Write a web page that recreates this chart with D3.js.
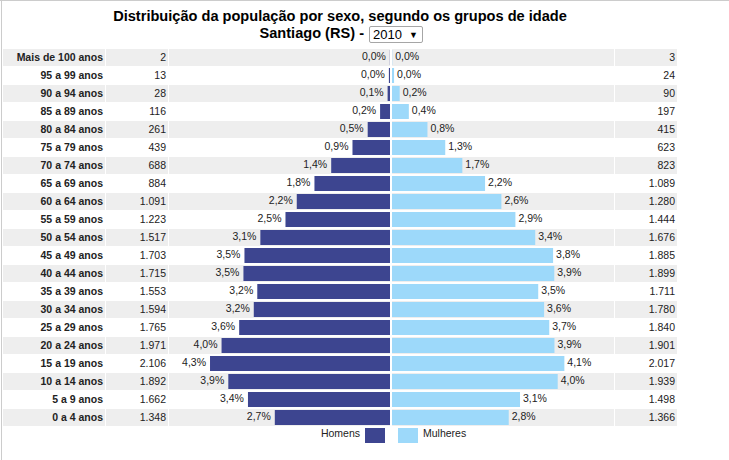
<!DOCTYPE html>
<html>
<head>
<meta charset="utf-8">
<script src="https://cdn.jsdelivr.net/npm/d3@7"></script>
<style>
  html, body { margin: 0; padding: 0; background: #fff; }
  svg { display: block; font-family: "Liberation Sans", Arial, sans-serif; }
</style>
</head>
<body>
<div id="chart"></div>
<script>
const titleLine1 = "Distribuição da população por sexo, segundo os grupos de idade";
const titleLine2 = "Santiago (RS) - ";
const yearOption = "2010";

const ageGroups = ["Mais de 100 anos","95 a 99 anos","90 a 94 anos","85 a 89 anos","80 a 84 anos",
  "75 a 79 anos","70 a 74 anos","65 a 69 anos","60 a 64 anos","55 a 59 anos","50 a 54 anos",
  "45 a 49 anos","40 a 44 anos","35 a 39 anos","30 a 34 anos","25 a 29 anos","20 a 24 anos",
  "15 a 19 anos","10 a 14 anos","5 a 9 anos","0 a 4 anos"];
const homens = [2,13,28,116,261,439,688,884,1091,1223,1517,1703,1715,1553,1594,1765,1971,2106,1892,1662,1348];
const mulheres = [3,24,90,197,415,623,823,1089,1280,1444,1676,1885,1899,1711,1780,1840,1901,2017,1939,1498,1366];
const homensPct = ["0,0","0,0","0,1","0,2","0,5","0,9","1,4","1,8","2,2","2,5","3,1","3,5","3,5","3,2","3,2","3,6","4,0","4,3","3,9","3,4","2,7"];
const mulheresPct = ["0,0","0,0","0,2","0,4","0,8","1,3","1,7","2,2","2,6","2,9","3,4","3,8","3,9","3,5","3,6","3,7","3,9","4,1","4,0","3,1","2,8"];
const legendLabels = ["Homens","Mulheres"];

const W = 729, H = 460;
const colMale = "#3d4590", colFemale = "#9dd9fa", rowGrey = "#eeeeee", txt = "#222";
const fmt = d3.formatLocale({decimal: ",", thousands: ".", grouping: [3]}).format(",d");

const svg = d3.select("#chart").append("svg").attr("width", W).attr("height", H);

// page borders
svg.append("line").attr("x1", 0).attr("x2", W).attr("y1", 0.5).attr("y2", 0.5).attr("stroke", "#cccccc");
svg.append("line").attr("x1", 1.5).attr("x2", 1.5).attr("y1", 0).attr("y2", H).attr("stroke", "#cccccc");

// title
const t1 = svg.append("text").attr("x", 340).attr("y", 21).attr("text-anchor", "middle")
  .attr("font-weight", "bold").attr("font-size", 16).attr("fill", "#000").text(titleLine1);
const w1 = t1.node().getComputedTextLength();
const tSize = 16 * 454 / w1;
t1.attr("font-size", tSize);
svg.append("text").attr("x", 364).attr("y", 38).attr("text-anchor", "end")
  .attr("font-weight", "bold").attr("font-size", tSize).attr("fill", "#000").text(titleLine2.trim());
// year select box
svg.append("rect").attr("x", 369.5).attr("y", 26.5).attr("width", 53).attr("height", 16)
  .attr("fill", "#fff").attr("stroke", "#a6a6a6").attr("rx", 1.5);
svg.append("text").attr("x", 373).attr("y", 39).attr("font-size", 13).attr("fill", "#000").text(yearOption);
svg.append("text").attr("x", 409).attr("y", 38).attr("font-size", 9).attr("fill", "#000").text("▼");

// scales
const rowStep = 18, rowTop = 49;
const y = d3.scaleBand().domain(ageGroups).range([rowTop, rowTop + rowStep * ageGroups.length]);
const xL = d3.scaleLinear().domain([0, 2586]).range([390, 169]);
const xR = d3.scaleLinear().domain([0, 2586]).range([392, 613]);

const cells = [[3,105],[106,168],[169,390],[392,614],[615,677]];
const rows = svg.append("g").selectAll("g").data(ageGroups).join("g");
rows.each(function(d, i) {
  if (i % 2 === 0) {
    d3.select(this).selectAll("rect.bg").data(cells).join("rect").attr("class", "bg")
      .attr("x", c => c[0]).attr("width", c => c[1] - c[0])
      .attr("y", y(d)).attr("height", 17).attr("fill", rowGrey);
  }
});

// labels
svg.append("g").selectAll("text").data(ageGroups).join("text")
  .attr("x", 103).attr("y", d => y(d) + 12).attr("text-anchor", "end")
  .attr("font-weight", "bold").attr("font-size", 10.5).attr("fill", txt).text(d => d);
svg.append("g").selectAll("text").data(homens).join("text")
  .attr("x", 166).attr("y", (d, i) => y(ageGroups[i]) + 12).attr("text-anchor", "end")
  .attr("font-size", 10.5).attr("fill", txt).text(d => fmt(d));
svg.append("g").selectAll("text").data(mulheres).join("text")
  .attr("x", 675).attr("y", (d, i) => y(ageGroups[i]) + 12).attr("text-anchor", "end")
  .attr("font-size", 10.5).attr("fill", txt).text(d => fmt(d));

// bars
svg.append("g").selectAll("rect").data(homens).join("rect")
  .attr("x", d => xL(d)).attr("width", d => xL(0) - xL(d))
  .attr("y", (d, i) => y(ageGroups[i]) + 1).attr("height", 15).attr("fill", colMale);
svg.append("g").selectAll("rect").data(mulheres).join("rect")
  .attr("x", xR(0)).attr("width", d => xR(d) - xR(0))
  .attr("y", (d, i) => y(ageGroups[i]) + 1).attr("height", 15).attr("fill", colFemale);

// percent labels
svg.append("g").selectAll("text").data(homens).join("text")
  .attr("x", d => xL(d) - 4).attr("y", (d, i) => y(ageGroups[i]) + 11).attr("text-anchor", "end")
  .attr("font-size", 10.5).attr("fill", txt).text((d, i) => homensPct[i] + "%");
svg.append("g").selectAll("text").data(mulheres).join("text")
  .attr("x", d => xR(d) + 3).attr("y", (d, i) => y(ageGroups[i]) + 11)
  .attr("font-size", 10.5).attr("fill", txt).text((d, i) => mulheresPct[i] + "%");

// legend
const lg = svg.append("g");
lg.append("text").attr("x", 360).attr("y", 437).attr("text-anchor", "end")
  .attr("font-size", 10.5).attr("fill", txt).text(legendLabels[0]);
lg.append("rect").attr("x", 365).attr("y", 428).attr("width", 20).attr("height", 15).attr("fill", colMale);
lg.append("rect").attr("x", 398).attr("y", 428).attr("width", 20).attr("height", 15).attr("fill", colFemale);
lg.append("text").attr("x", 423).attr("y", 437)
  .attr("font-size", 10.5).attr("fill", txt).text(legendLabels[1]);
</script>
</body>
</html>
